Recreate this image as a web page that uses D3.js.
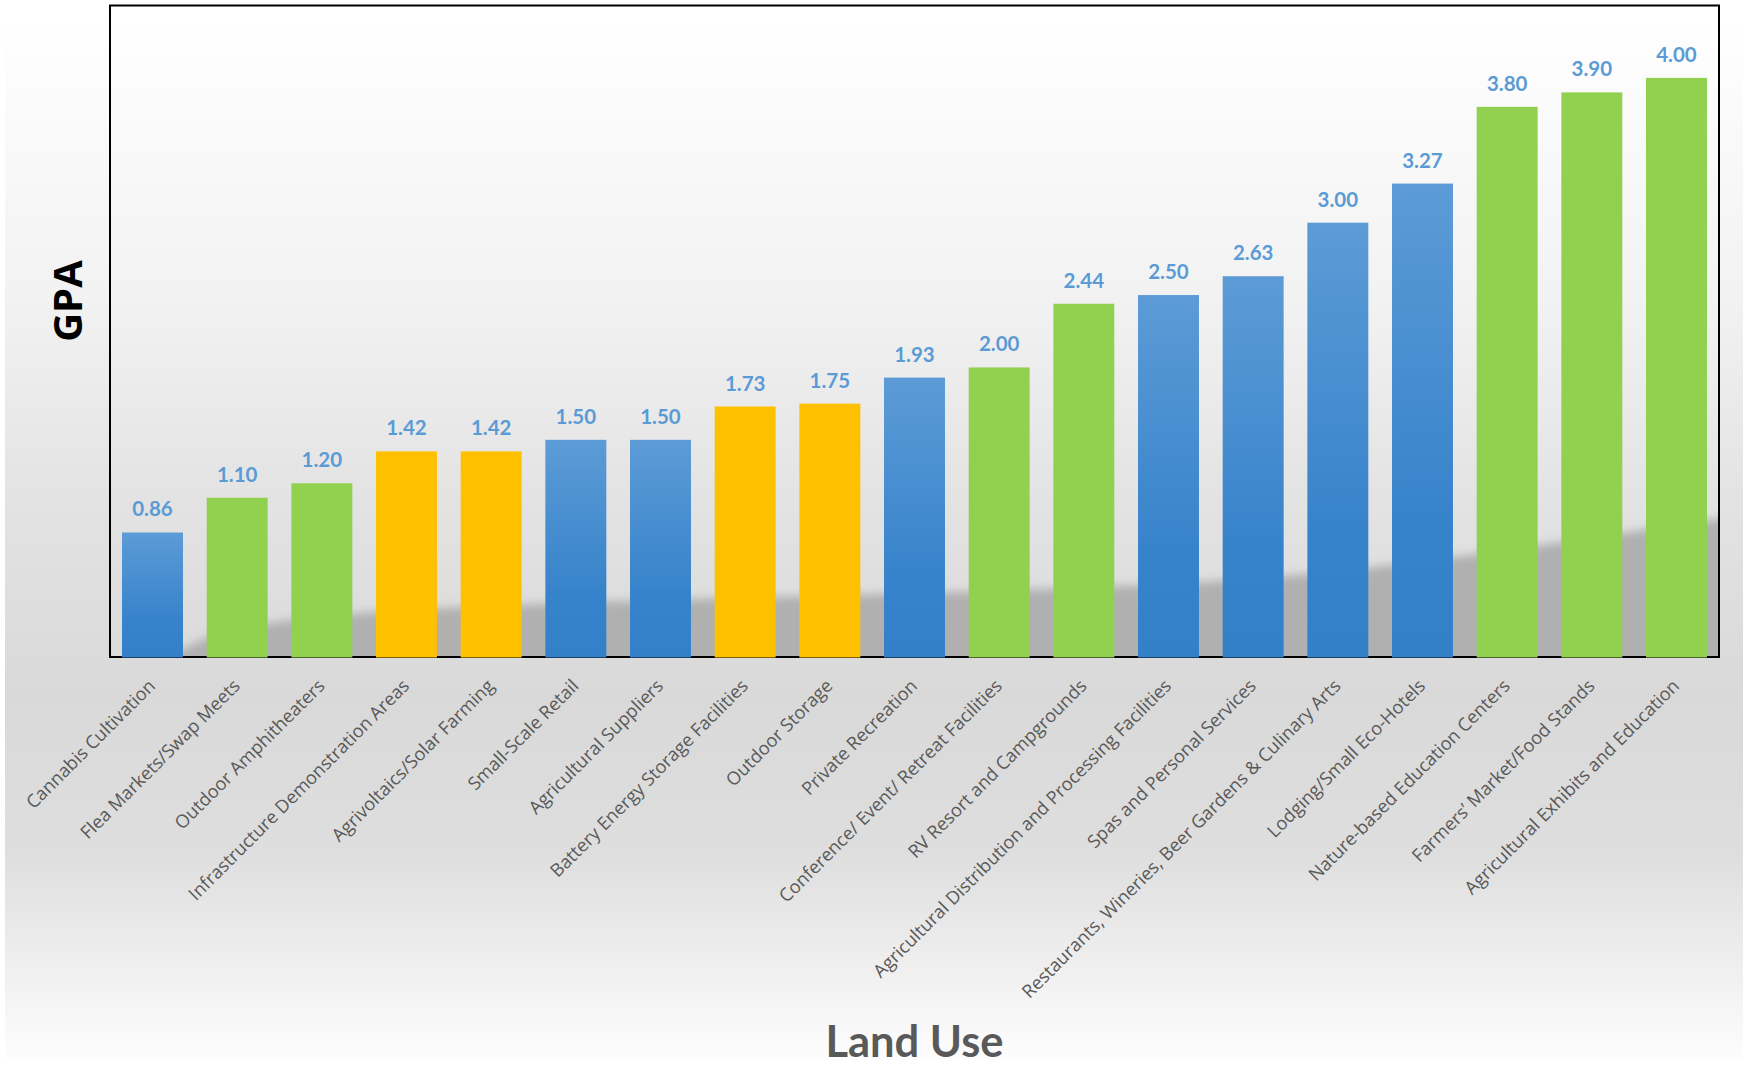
<!DOCTYPE html>
<html>
<head>
<meta charset="utf-8">
<script src="https://cdn.jsdelivr.net/npm/d3@7"></script>
<style>
  body { margin: 0; background: #fff; }
  svg { display: block; }
</style>
</head>
<body>
<svg width="1743" height="1065"></svg>
<script>
var categories = [
  "Cannabis Cultivation", "Flea Markets/Swap Meets", "Outdoor Amphitheaters",
  "Infrastructure Demonstration Areas", "Agrivoltaics/Solar Farming", "Small-Scale Retail",
  "Agricultural Suppliers", "Battery Energy Storage Facilities", "Outdoor Storage",
  "Private Recreation", "Conference/ Event/ Retreat Facilities", "RV Resort and Campgrounds",
  "Agricultural Distribution and Processing Facilities", "Spas and Personal Services",
  "Restaurants, Wineries, Beer Gardens & Culinary Arts", "Lodging/Small Eco-Hotels",
  "Nature-based Education Centers", "Farmers\u2019 Market/Food Stands",
  "Agricultural Exhibits and Education"
];
var gpa = [0.86, 1.10, 1.20, 1.42, 1.42, 1.50, 1.50, 1.73, 1.75, 1.93,
           2.00, 2.44, 2.50, 2.63, 3.00, 3.27, 3.80, 3.90, 4.00];
var groups = ["blue", "green", "green", "yellow", "yellow", "blue", "blue", "yellow", "yellow", "blue",
              "green", "green", "blue", "blue", "blue", "blue", "green", "green", "green"];

var data = categories.map(function(c, i) { return {name: c, value: gpa[i], group: groups[i]}; });

var svg = d3.select("svg"),
    margin = {top: 5.5, right: 24, bottom: 408, left: 110},
    width = +svg.attr("width") - margin.left - margin.right,
    height = +svg.attr("height") - margin.top - margin.bottom;

var defs = svg.append("defs");

// page background: soft vertical grey gradient
var bg = defs.append("linearGradient").attr("id", "bg")
    .attr("x1", 0).attr("y1", 0).attr("x2", 0).attr("y2", 1);
[[0, "#ffffff"], [0.27, "#f2f2f2"], [0.46, "#e3e3e3"], [0.65, "#d9d9d9"],
 [0.8, "#dedede"], [1, "#fdfdfd"]].forEach(function(s) {
  bg.append("stop").attr("offset", s[0]).attr("stop-color", s[1]);
});

var blueGrad = defs.append("linearGradient").attr("id", "blueGrad")
    .attr("x1", 0).attr("y1", 0).attr("x2", 0).attr("y2", 1);
blueGrad.append("stop").attr("offset", 0).attr("stop-color", "#5c9bd6");
blueGrad.append("stop").attr("offset", 0.7).attr("stop-color", "#3783cb");
blueGrad.append("stop").attr("offset", 1).attr("stop-color", "#3380c9");

defs.append("filter").attr("id", "soft")
    .attr("x", "-10%").attr("y", "-50%").attr("width", "120%").attr("height", "200%")
  .append("feGaussianBlur").attr("stdDeviation", 5);

defs.append("clipPath").attr("id", "plotClip")
  .append("rect").attr("width", width).attr("height", height);

svg.append("rect")
    .attr("x", 5).attr("y", 18)
    .attr("width", 1738).attr("height", 1042)
    .attr("fill", "url(#bg)");

var color = {blue: "url(#blueGrad)", green: "#92d050", yellow: "#ffc000"};

var x = d3.scaleBand()
    .domain(categories)
    .range([0, width])
    .paddingInner(0.28)
    .paddingOuter(0.142);

var y = d3.scaleLinear().domain([0, 4.5]).range([height, 0]);

var g = svg.append("g")
    .attr("transform", "translate(" + margin.left + "," + margin.top + ")");

// floor shadow behind the bars
var shadowPts = [[50, height + 10], [100, height - 32], [340, height - 54], [1060, height - 68],
                 [1300, height - 92], [width + 10, height - 140]];
var shadowArea = d3.area()
    .x(function(d) { return d[0]; })
    .y0(height + 20)
    .y1(function(d) { return d[1]; })
    .curve(d3.curveBasis);
g.append("g").attr("clip-path", "url(#plotClip)")
  .append("path")
    .datum(shadowPts)
    .attr("d", shadowArea)
    .attr("fill", "#b0b0b0")
    .attr("filter", "url(#soft)");

// plot frame
g.append("rect")
    .attr("width", width).attr("height", height)
    .attr("fill", "none")
    .attr("stroke", "#000")
    .attr("stroke-width", 2);

g.selectAll(".bar")
  .data(data)
  .enter().append("rect")
    .attr("class", "bar")
    .attr("x", function(d) { return x(d.name); })
    .attr("y", function(d) { return y(d.value); })
    .attr("width", x.bandwidth())
    .attr("height", function(d) { return height - y(d.value) + 0.5; })
    .attr("fill", function(d) { return color[d.group]; });

g.selectAll(".val")
  .data(data)
  .enter().append("text")
    .attr("class", "val")
    .attr("x", function(d) { return x(d.name) + x.bandwidth() / 2; })
    .attr("y", function(d) { return y(d.value) - 16; })
    .attr("text-anchor", "middle")
    .attr("font-family", "Lato, 'Open Sans', sans-serif")
    .attr("font-weight", "bold")
    .attr("font-size", 20.5)
    .attr("fill", "#5b9bd5")
    .text(function(d) { return d.value.toFixed(2); });

// rotated category labels
g.selectAll(".cat")
  .data(data)
  .enter().append("text")
    .attr("class", "cat")
    .attr("transform", function(d) {
      return "translate(" + (x(d.name) + x.bandwidth() / 2 + 4) + "," + (height + 30) + ") rotate(-45)";
    })
    .attr("text-anchor", "end")
    .attr("font-family", "'Open Sans', Lato, sans-serif")
    .attr("font-size", 18.2)
    .attr("fill", "#595959")
    .text(function(d) { return d.name; });

svg.append("text")
    .attr("x", margin.left + width / 2)
    .attr("y", 1057)
    .attr("text-anchor", "middle")
    .attr("font-family", "Lato, 'Open Sans', sans-serif")
    .attr("font-weight", "bold")
    .attr("font-size", 43.5)
    .attr("fill", "#595959")
    .text("Land Use");

svg.append("text")
    .attr("transform", "translate(82,301) rotate(-90)")
    .attr("text-anchor", "middle")
    .attr("font-family", "'Open Sans', sans-serif")
    .attr("font-weight", "bold")
    .attr("font-size", 40)
    .attr("fill", "#000")
    .text("GPA");
</script>
</body>
</html>
